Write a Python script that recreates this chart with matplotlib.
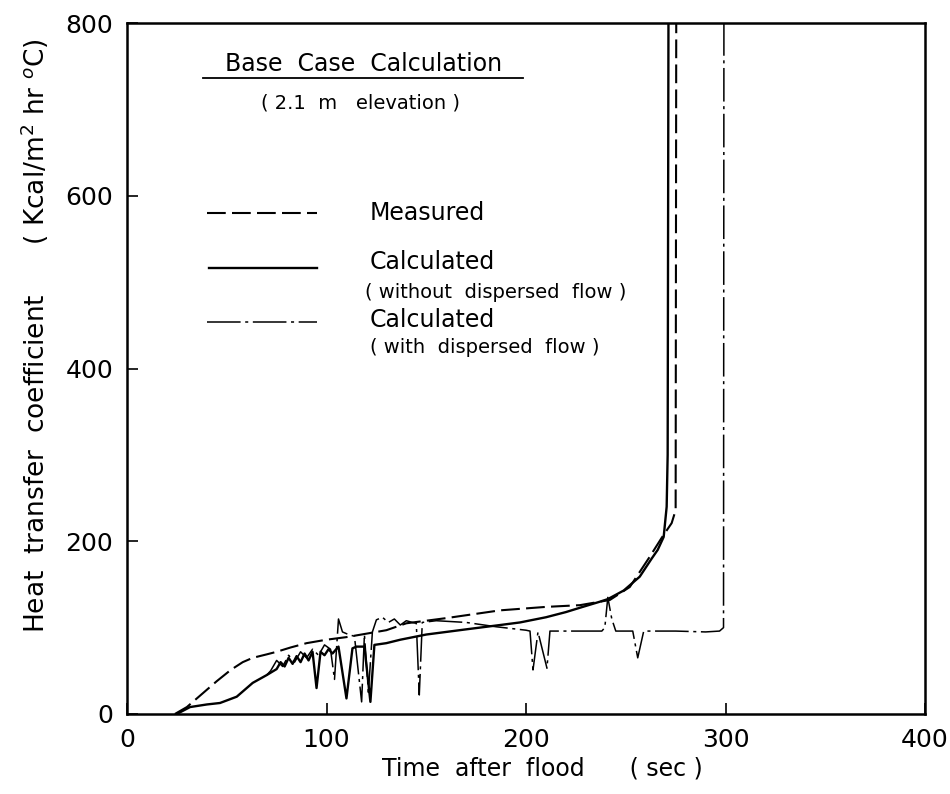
import matplotlib
matplotlib.use("Agg")
import matplotlib.pyplot as plt

plt.rcParams['font.family'] = ['DejaVu Sans']

# measured (dashed)
t_meas = [24, 30, 38, 45, 52, 58, 63, 70, 75, 82, 90, 100, 110, 120, 130, 140,
          160, 187, 210, 227, 242, 252, 262, 268, 273, 275, 275.3]
h_meas = [0, 8, 24, 38, 51, 60, 65, 69, 72, 77, 82, 86, 89, 93, 97, 105,
          111, 120, 124, 126, 132, 147, 182, 204, 221, 236, 800]

# calculated, without dispersed flow (solid)
t_nodisp = [25, 31.6, 40, 46.6, 55, 63, 70, 75, 77, 79, 81, 83, 85, 87, 89, 91,
            93, 95, 97, 99, 101, 103, 106, 110, 113, 115, 119, 122, 124, 130,
            137, 150, 170, 187, 197, 210, 220, 227, 237, 241, 249, 257, 263,
            266, 269, 270.5, 271, 271.4]
h_nodisp = [0, 8, 11, 12.7, 20, 36, 45, 52, 60, 55, 65, 58, 67, 60, 70, 62,
            72, 30, 72, 68, 75, 70, 78, 18, 76, 78, 78, 14, 80, 82,
            86, 92, 98, 103, 106, 112, 118, 123, 130, 133, 143, 159, 180,
            190, 205, 240, 300, 800]

# calculated, with dispersed flow (dash-dot)
t_disp = [70, 72, 75, 78, 81, 84, 87, 90, 93, 96, 99, 102, 104, 106, 108, 111,
          114, 117.6, 119, 121, 123, 125, 128, 131, 134, 137, 140, 143, 145,
          146.5, 148, 155, 170, 185, 200, 202, 203.5, 206, 210.5, 212, 225,
          238, 239.5, 241, 243, 245, 253.5, 256, 259, 275, 290, 297, 299, 299.2]
h_disp = [45, 50, 62, 55, 68, 60, 72, 65, 75, 68, 80, 75, 40, 110, 95, 92,
          90, 14, 92, 25, 95, 109, 112, 106, 110, 103, 108, 106, 105,
          22, 106, 108, 106, 101, 97, 96, 51, 95, 53, 96, 96,
          96, 100, 135, 110, 96, 96, 65, 96, 96, 95, 96, 100, 800]

x_ticks = [0, 100, 200, 300, 400]
y_ticks = [0, 200, 400, 600, 800]

fig = plt.figure(figsize=(9.5, 7.94), dpi=100)
ax = fig.add_axes([0.1337, 0.1008, 0.840, 0.870])

dash = (0, (9, 3))
dashdot = (0, (22, 3, 2, 3))

ax.plot(t_meas, h_meas, color='black', lw=1.5, linestyle=dash)
ax.plot(t_nodisp, h_nodisp, color='black', lw=1.7)
ax.plot(t_disp, h_disp, color='black', lw=1.1, linestyle=dashdot)

# legend drawn by hand like the original
ax.plot([40, 95], [580, 580], color='black', lw=1.5, linestyle=dash)
ax.plot([41, 95], [517, 517], color='black', lw=1.7)
ax.plot([40, 95], [454, 454], color='black', lw=1.1, linestyle=dashdot)
ax.text(121.8, 580, 'Measured', fontsize=17, va='center', ha='left')
ax.text(121.8, 523, 'Calculated', fontsize=17, va='center', ha='left')
ax.text(119.3, 488, '( without  dispersed  flow )', fontsize=14, va='center', ha='left')
ax.text(121.8, 456, 'Calculated', fontsize=17, va='center', ha='left')
ax.text(121.8, 424, '( with  dispersed  flow )', fontsize=14, va='center', ha='left')

ax.text(118.8, 753, 'Base  Case  Calculation', fontsize=17, va='center', ha='center')
ax.plot([38, 198.5], [736, 736], color='black', lw=1.3)
ax.text(116.8, 708, '( 2.1  m   elevation )', fontsize=14, va='center', ha='center')

ax.set_xlim(0, 400)
ax.set_ylim(0, 800)
ax.set_xticks(x_ticks)
ax.set_yticks(y_ticks)
ax.tick_params(direction='in', length=8, width=1.2, labelsize=18, pad=10)
for s in ax.spines.values():
    s.set_linewidth(1.8)

ax.set_xlabel('Time  after  flood      ( sec )', fontsize=17)
ax.xaxis.set_label_coords(0.52, -0.062)
ax.set_ylabel('Heat  transfer  coefficient      ( Kcal/m$^2$ hr $^o$C)', fontsize=19)
ax.yaxis.set_label_coords(-0.095, 0.548)

fig.savefig('out.png', dpi=100)
